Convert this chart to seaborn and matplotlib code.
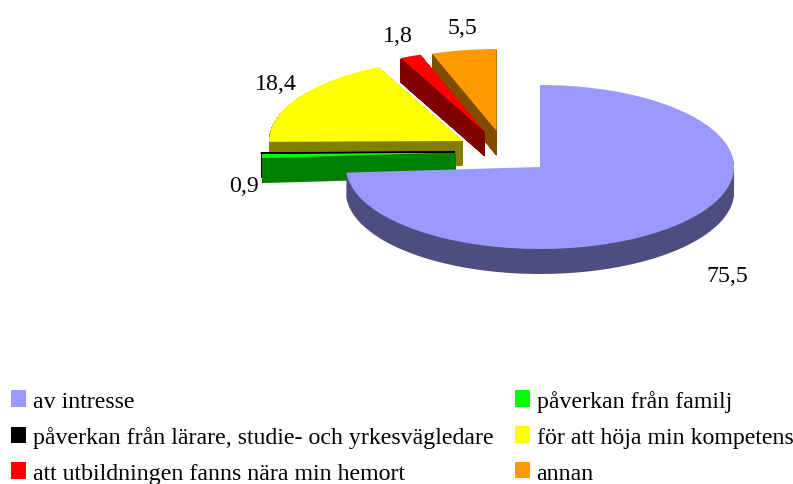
import matplotlib
matplotlib.use("Agg")
import matplotlib.pyplot as plt
from matplotlib.patches import Patch
import seaborn as sns

categories = ["av intresse", "påverkan från familj",
              "påverkan från lärare, studie- och yrkesvägledare",
              "för att höja min kompetens",
              "att utbildningen fanns nära min hemort", "annan"]
values = [75.5, 0.9, 0.05, 18.4, 1.8, 5.5]
value_labels = ["75,5", "0,9", "", "18,4", "1,8", "5,5"]
top_colors = ["#9999FF", "#00FF00", "#000000", "#FFFF00", "#FF0000", "#FF9900"]
side_colors = ["#4D4D80", "#008000", "#000000", "#808000", "#800000", "#804D00"]

W, H = 793, 485
SQUASH = 0.4227
R = 194
DEPTH = 25
# wedge tips in reference pixels
tips = [(540, 168), (456, 153.5), (455, 153), (463, 142), (485, 133), (496.5, 132)]
label_pos = [(727, 276), (244, 187), None, (276, 85), (398, 36), (462, 29)]
draw_rank = [6, 5, 4, 3, 2, 1]  # back-to-front order

sns.set_theme(style="white")
plt.rcParams["font.family"] = ["Liberation Serif", "DejaVu Serif"]
FS = 17.2


def yd(py):
    return (H - py) / SQUASH


fig = plt.figure(figsize=(W / 100, H / 100), dpi=100, facecolor="white")
ax = fig.add_axes([0, 0, 1, 1])

for layer in range(DEPTH, -1, -1):
    cols = top_colors if layer == 0 else side_colors
    wedges, _ = ax.pie(values, colors=sns.color_palette(cols),
                       startangle=90, counterclock=False, radius=R,
                       center=(540, yd(168)))
    for i, (w, (tx, ty), rank) in enumerate(zip(wedges, tips, draw_rank)):
        w.set_center((tx, yd(ty + layer)))
        w.set_zorder(rank * 100 - layer)
        w.set_linewidth(0)
        # stacked copies of thin tips would fade if every layer were antialiased
        w.set_antialiased(layer == 0 or layer == DEPTH or i == 0)
# black sliver: thin outline on its own face
bk = wedges[2]
bk.set_edgecolor("black")
bk.set_linewidth(1.0)
bk.set_zorder(1000)

ax.set_aspect("auto")
ax.set_xlim(0, W)
ax.set_ylim(0, H / SQUASH)
ax.set_axis_off()

for txt, pos in zip(value_labels, label_pos):
    if pos:
        ax.text(pos[0], yd(pos[1]), txt, ha="center", va="center",
                fontsize=FS, color="black", zorder=2000)

order = [0, 2, 4, 1, 3, 5]
handles = [Patch(facecolor=top_colors[i], edgecolor="none") for i in order]
labels = [categories[i] for i in order]
fig.legend(handles, labels, ncol=2, loc="lower left",
           bbox_to_anchor=(11 / W, 1 - 485 / H), frameon=False, fontsize=FS,
           labelcolor="black",
           borderpad=0, borderaxespad=0, handlelength=0.63, handleheight=0.68,
           handletextpad=0.29, labelspacing=0.6, columnspacing=0.88)

fig.savefig("out.png", dpi=100)
